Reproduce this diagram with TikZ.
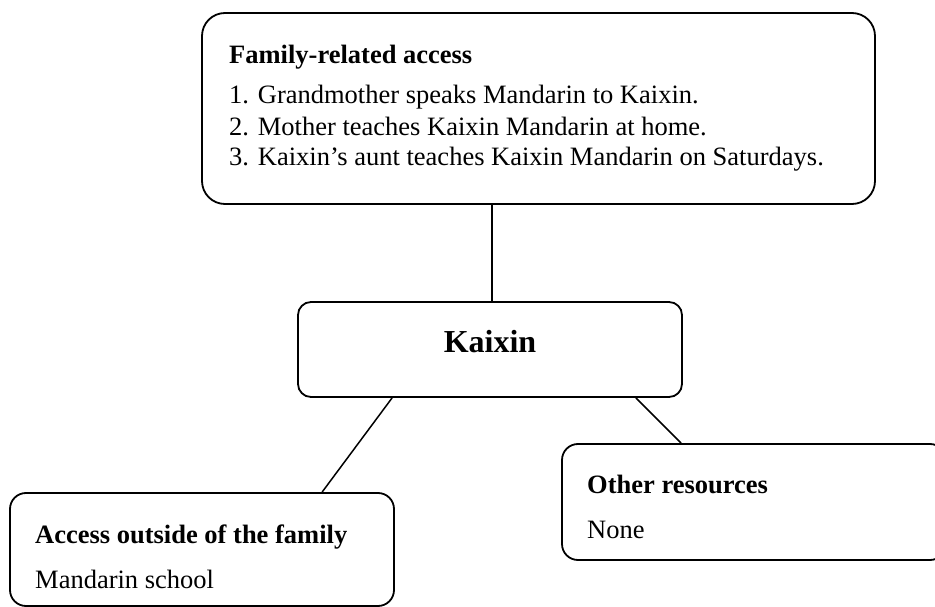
\documentclass[tikz,border=0pt]{standalone}
\usepackage{fontspec}
\setmainfont{Liberation Serif}
\usetikzlibrary{calc}
\begin{document}
\begin{tikzpicture}[x=1pt,y=-1pt,
  panel/.style={draw, line width=1.8pt, rounded corners=#1, inner sep=0pt},
  link/.style={draw, line width=1.5pt},
  body/.style={anchor=base west, inner sep=0pt, font=\fontsize{26.5}{30}\selectfont},
  head/.style={body, font=\fontsize{26.5}{30}\selectfont\bfseries},
  title/.style={anchor=base, inner sep=0pt, font=\fontsize{32}{36}\selectfont\bfseries}]
\useasboundingbox (0,0) rectangle (935,607);

% boxes
\node[panel=23pt, minimum width=673pt, minimum height=191pt] (family) at (538.5,108.5) {};
\node[panel=13pt, minimum width=384pt, minimum height=95pt] (kaixin) at (490,349.5) {};
\node[panel=16pt, minimum width=384pt, minimum height=113pt] (outside) at (202,549.5) {};
\node[panel=16pt, minimum width=384pt, minimum height=116pt] (other) at (754,502) {};

% texts
\node[head] (famhead) at (229,64) {Family-related access};
\node[body] (fam1) at (229,104) {1. Grandmother speaks Mandarin to Kaixin.};
\node[body] (fam2) at (229,136) {2. Mother teaches Kaixin Mandarin at home.};
\node[body] (fam3) at (229,166) {3. Kaixin’s aunt teaches Kaixin Mandarin on Saturdays.};
\node[title] (name) at (490,352) {Kaixin};
\node[head] (outhead) at (35,543) {Access outside of the family};
\node[body] (out1) at (35,588) {Mandarin school};
\node[head] (othhead) at (587,493) {Other resources};
\node[body] (oth1) at (587,538) {None};

% connectors
\draw[link] ($(kaixin.north)+(2,0)$) -- ($(kaixin.north |- family.south)+(2,0)$);
\draw[link] ($(kaixin.south west)+(95,0)$) -- ($(outside.north west)+(313,0)$);
\draw[link] ($(kaixin.south east)+(-47,0)$) -- ($(other.north west)+(120,0)$);
\end{tikzpicture}
\end{document}
